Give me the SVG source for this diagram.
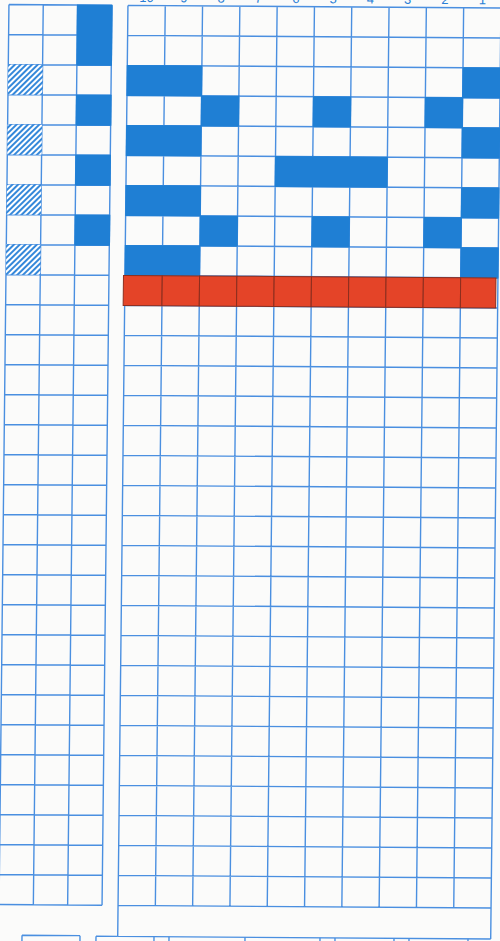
<svg xmlns="http://www.w3.org/2000/svg" width="500" height="941" viewBox="0 0 500 941">
<defs>
<style>
.grid{fill:none;stroke:#4a8fe0;stroke-width:1.4}
.blue{fill:#1f7fd4}
.red{fill:#e44428;stroke:#8c2e1e;stroke-width:1}
.hatch{fill:url(#hatch)}
.num{font-family:"Liberation Sans",Arial,sans-serif;font-size:13px;fill:#2a7fd6;text-anchor:middle}
</style>
<pattern id="hatch" patternUnits="userSpaceOnUse" width="4" height="4" patternTransform="rotate(45)">
<rect width="4" height="4" fill="#ffffff"/>
<line x1="1" y1="0" x2="1" y2="4" stroke="#2a82d8" stroke-width="1.9"/>
</pattern>
</defs>
<rect width="500" height="941" fill="#fbfbfa"/>
<g transform="matrix(1 0.007 -0.011 1 0 -0.5)">
<g id="labels">
<text class="num" x="146.6" y="1.5">10</text>
<text class="num" x="183.9" y="1.5">9</text>
<text class="num" x="221.2" y="1.5">8</text>
<text class="num" x="258.5" y="1.5">7</text>
<text class="num" x="295.8" y="1.5">6</text>
<text class="num" x="333.1" y="1.5">5</text>
<text class="num" x="370.4" y="1.5">4</text>
<text class="num" x="407.7" y="1.5">3</text>
<text class="num" x="445" y="1.5">2</text>
<text class="num" x="482.3" y="1.5">1</text>
</g>
<g id="left-grid">
<path class="grid" d="M9 5H112M9 35H112M9 65H112M9 95H112M9 125H112M9 155H112M9 185H112M9 215H112M9 245H112M9 275H112M9 305H112M9 335H112M9 365H112M9 395H112M9 425H112M9 455H112M9 485H112M9 515H112M9 545H112M9 575H112M9 605H112M9 635H112M9 665H112M9 695H112M9 725H112M9 755H112M9 785H112M9 815H112M9 845H112M9 875H112M9 905H112M9 5V905M43.3 5V905M77.6 5V905M112 5V905"/>
<g id="left-hatch">
<rect class="hatch" x="9" y="65" width="34.3" height="30"/>
<rect class="hatch" x="9" y="125" width="34.3" height="30"/>
<rect class="hatch" x="9" y="185" width="34.3" height="30"/>
<rect class="hatch" x="9" y="245" width="34.3" height="30"/>
</g>
<g id="left-blue">
<rect class="blue" x="77" y="4.5" width="35.7" height="61"/>
<rect class="blue" x="77" y="94.5" width="35.7" height="31"/>
<rect class="blue" x="77" y="154.5" width="35.7" height="31"/>
<rect class="blue" x="77" y="214.5" width="35.7" height="31"/>
</g>
</g>
<g id="right-grid">
<path class="grid" d="M128 5H501M128 35H501M128 65H501M128 95H501M128 125H501M128 155H501M128 185H501M128 215H501M128 245H501M128 275H501M128 305H501M128 335H501M128 365H501M128 395H501M128 425H501M128 455H501M128 485H501M128 515H501M128 545H501M128 575H501M128 605H501M128 635H501M128 665H501M128 695H501M128 725H501M128 755H501M128 785H501M128 815H501M128 845H501M128 875H501M128 905H501M128 936H501M128 5V936M501 5V936M165.3 5V905M202.6 5V905M239.9 5V905M277.2 5V905M314.5 5V905M351.8 5V905M389.1 5V905M426.4 5V905M463.7 5V905"/>
<g id="right-blue">
<rect class="blue" x="127.5" y="64.5" width="75.6" height="31"/>
<rect class="blue" x="463.2" y="64.5" width="38.3" height="31"/>
<rect class="blue" x="202.1" y="94.5" width="38.3" height="31"/>
<rect class="blue" x="314" y="94.5" width="38.3" height="31"/>
<rect class="blue" x="425.9" y="94.5" width="38.3" height="31"/>
<rect class="blue" x="127.5" y="124.5" width="75.6" height="31"/>
<rect class="blue" x="463.2" y="124.5" width="38.3" height="31"/>
<rect class="blue" x="276.7" y="154.5" width="112.9" height="31"/>
<rect class="blue" x="127.5" y="184.5" width="75.6" height="31"/>
<rect class="blue" x="463.2" y="184.5" width="38.3" height="31"/>
<rect class="blue" x="202.1" y="214.5" width="38.3" height="31"/>
<rect class="blue" x="314" y="214.5" width="38.3" height="31"/>
<rect class="blue" x="425.9" y="214.5" width="38.3" height="31"/>
<rect class="blue" x="127.5" y="244.5" width="75.6" height="31"/>
<rect class="blue" x="463.2" y="244.5" width="38.3" height="31"/>
</g>
<g id="red-row">
<rect class="red" x="126.5" y="275" width="38.8" height="30"/>
<rect class="red" x="165.3" y="275" width="37.3" height="30"/>
<rect class="red" x="202.6" y="275" width="37.3" height="30"/>
<rect class="red" x="239.9" y="275" width="37.3" height="30"/>
<rect class="red" x="277.2" y="275" width="37.3" height="30"/>
<rect class="red" x="314.5" y="275" width="37.3" height="30"/>
<rect class="red" x="351.8" y="275" width="37.3" height="30"/>
<rect class="red" x="389.1" y="275" width="37.3" height="30"/>
<rect class="red" x="426.4" y="275" width="37.3" height="30"/>
<rect class="red" x="463.7" y="275" width="35.3" height="30"/>
</g>
</g>
<g id="bottom-strips">
<path class="grid" d="M32.3 935.5H90.3M32.3 935.5V960M90.3 935.5V960M106.3 936H128M106.3 936V960M164.3 936V960M179.3 936V960M255.3 936V960M330.3 936V960M345.3 936V960M404.3 936V960M419.3 936V960M478.3 936V960"/>
</g>
</g>
</svg>
